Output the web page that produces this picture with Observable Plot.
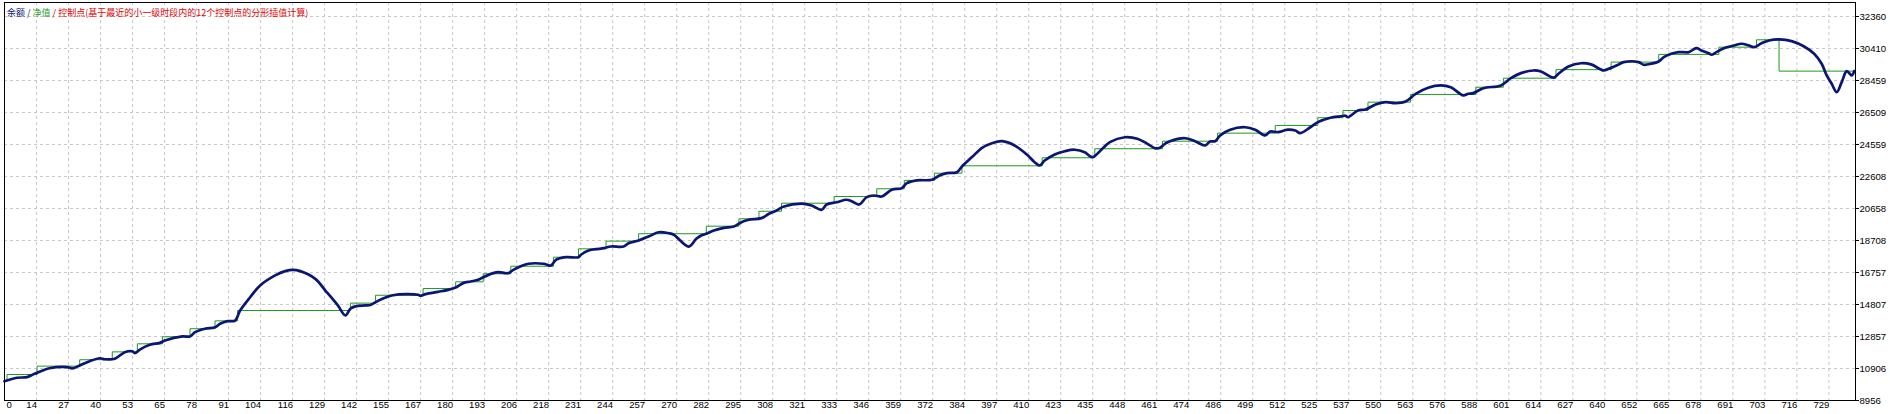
<!DOCTYPE html>
<html>
<head>
<meta charset="utf-8">
<script src="https://cdn.jsdelivr.net/npm/d3@7"></script>
<script src="https://cdn.jsdelivr.net/npm/@observablehq/plot@0.6"></script>
<style>
  html, body { margin: 0; padding: 0; background: #fff; }
  #wrap { position: relative; width: 1890px; height: 414px; overflow: hidden; }
  #legend { position: absolute; left: 7px; top: 8px; font-family: "Noto Sans CJK SC", sans-serif; font-size: 9px; line-height: 10px; white-space: nowrap; }
</style>
</head>
<body>
<div id="wrap"><div id="legend"></div></div>
<script>
// Legend texts (series names)
const legendParts = [
  { text: "余额", color: "#0b1673" },
  { text: " / ", color: "#0b1673" },
  { text: "净值", color: "#1f9a1f" },
  { text: " / ", color: "#b00000" },
  { text: "控制点(基于最近的小一级时段内的12个控制点的分形插值计算)", color: "#e00000" }
];

// Axis tick labels
const yTickLabels = ["8956", "10906", "12857", "14807", "16757", "18708", "20658", "22608", "24559", "26509", "28459", "30410", "32360"];
const xTickLabels = ["0","14","27","40","53","65","78","91","104","116","129","142","155","167","180","193","206","218","231","244","257","270","282","295","308","321","333","346","359","372","384","397","410","423","435","448","461","474","486","499","512","525","537","550","563","576","588","601","614","627","640","652","665","678","691","703","716","729"];

// Balance (blue) – trade number and value
const balanceX = [0,5,9,12,18,25,27,30,34,38,40,44,48,51,52,54,58,62,64,71,74,76,80,84,86,89,92,94,98,102,108,112,115,118,124,128,133,136,138,140,144,146,149,152,155,160,165,166,168,173,177,180,183,186,189,191,195,197,201,203,206,209,215,218,220,224,229,230,233,237,239,242,247,249,253,257,261,265,267,273,276,278,280,283,287,291,294,297,302,305,308,311,318,322,326,328,332,336,338,341,344,347,350,354,358,360,364,370,373,376,380,382,386,390,394,398,403,408,411,413,415,419,423,427,431,434,438,441,447,452,456,459,461,463,465,471,475,479,481,483,485,489,495,499,503,505,508,512,515,517,521,524,529,533,535,536,540,543,547,551,555,559,563,568,573,577,582,584,586,590,597,601,605,610,613,618,620,624,629,633,638,640,644,646,652,654,657,660,662,665,668,672,675,677,680,681,683,686,690,693,696,698,701,704,708,713,718,722,725,727,729,731,733,735,737,738];
const balanceY = [10130,10340,10380,10580,10920,10990,10910,11090,11350,11530,11470,11500,11900,11960,11840,12060,12350,12470,12610,12860,12860,13120,13330,13420,13630,13790,13830,14440,15250,15970,16580,16840,16920,16840,16370,15660,14750,14140,14550,14690,14750,14780,15030,15230,15370,15440,15400,15340,15440,15580,15700,15840,16110,16210,16310,16470,16720,16780,16720,16920,17140,17290,17290,17180,17530,17690,17690,17840,18100,18200,18240,18340,18340,18540,18710,18950,19210,19150,19060,18340,18810,19010,19120,19320,19480,19560,19820,19970,20070,20340,20540,20780,20950,20840,20580,20900,21040,21190,21100,20900,21350,21450,21390,21800,21900,22200,22370,22410,22670,22810,22870,23220,23790,24360,24640,24760,24500,23930,23480,23280,23580,23950,24150,24240,24090,23790,24300,24700,25000,24910,24600,24330,24360,24600,24760,24940,24760,24500,24740,24760,25110,25460,25610,25460,25110,25350,25310,25460,25410,25250,25610,25920,26190,26270,26310,26220,26630,26690,27000,27140,27080,27180,27650,28020,28160,28050,27550,27650,27690,27990,28160,28600,28910,29070,29010,28630,28870,29310,29510,29440,29070,29170,29440,29580,29580,29420,29480,29620,29880,30090,30190,30190,30430,30290,30120,30030,30190,30430,30590,30700,30590,30490,30730,30900,30960,30860,30530,30090,29480,28770,28260,27750,28360,29030,28770,29030];

// Equity (green) – stepped levels: trade number where each level starts, and the level
const equityX = [0,1,13,30,43,53,63,74,84,93,138,148,167,180,191,202,219,229,240,253,280,293,301,310,331,348,359,371,382,414,435,462,484,507,524,534,544,561,587,598,619,641,660,684,699,708,738];
const equityY = [10130,10540,11050,11440,11920,12410,12840,13330,13810,14440,14890,15370,15780,16190,16680,17140,17690,18200,18670,19120,19580,20030,20490,20980,21390,21860,22370,22810,23260,23750,24300,24760,25250,25720,26190,26630,27140,27610,28050,28600,29120,29580,30050,30490,30940,29030,29030];

const balance = balanceX.map((x, i) => ({ x, y: balanceY[i] }));
const equity = equityX.map((x, i) => ({ x, y: equityY[i] }));
const yTicks = yTickLabels.map(Number);
const xGridStep = 12.77; // trade numbers between two vertical grid lines
const xTicks = xTickLabels.map((label, k) => ({ label, pos: k * xGridStep }));

const legend = document.getElementById("legend");
for (const p of legendParts) {
  const s = document.createElement("span");
  s.textContent = p.text;
  s.style.color = p.color;
  legend.appendChild(s);
}

const gridStyle = { stroke: "#c8c8c8", strokeOpacity: 1, strokeWidth: 1, strokeDasharray: "3,3" };

const chart = Plot.plot({
  width: 1890,
  height: 414,
  marginLeft: 4,
  marginRight: 35,
  marginTop: 2,
  marginBottom: 14,
  style: { fontFamily: "'Liberation Sans', Arial, sans-serif", fontSize: "9.6px", color: "#000", background: "#fff", overflow: "visible" },
  x: { domain: [0, 738.5], axis: null },
  y: { domain: [8956, 33213], axis: null },
  marks: [
    Plot.gridX(xTicks.map(d => d.pos), gridStyle),
    Plot.gridY(yTicks, gridStyle),
    Plot.line(equity, { x: "x", y: "y", curve: "step-after", stroke: "#1f9a1f", strokeWidth: 1 }),
    Plot.line(balance, { x: "x", y: "y", curve: "catmull-rom", stroke: "#0b1673", strokeWidth: 2.7, strokeLinejoin: "round" }),
    Plot.frame({ stroke: "#000", strokeWidth: 1 }),
    Plot.axisY(yTicks, { anchor: "right", label: null, tickSize: 3, tickPadding: 1, tickFormat: (d) => yTickLabels[yTicks.indexOf(d)], fill: "#000" }),
    Plot.text(xTicks.slice(0, 1), { x: "pos", text: "label", frameAnchor: "bottom", dy: 7.5, dx: 2, textAnchor: "start", fill: "#000" }),
    Plot.text(xTicks.slice(1), { x: "pos", text: "label", frameAnchor: "bottom", dy: 7.5, dx: 0.5, textAnchor: "end", fill: "#000" })
  ]
});
document.getElementById("wrap").appendChild(chart);
chart.style.position = "absolute";
chart.style.left = "0";
chart.style.top = "0";
document.getElementById("wrap").appendChild(legend);
</script>
</body>
</html>
